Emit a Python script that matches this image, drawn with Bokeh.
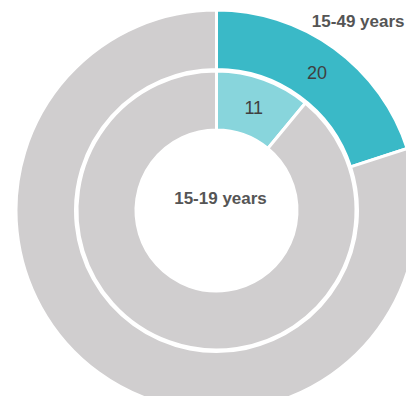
import math
from bokeh.plotting import figure
from bokeh.models import Range1d, ColumnDataSource
from bokeh.core.properties import value
from bokeh.embed import file_html
from bokeh.resources import INLINE

# ---- data ----
outer_labels = ["15-49 years", "Rest"]
outer_values = [20, 80]
inner_labels = ["15-19 years", "Rest"]
inner_values = [11, 89]
outer_colors = ["#3ab9c7", "#d0cecf"]
inner_colors = ["#88d5dc", "#d0cecf"]

CX, CY = 216, -210

def wedges(vals):
    total = sum(vals)
    starts, ends, mids = [], [], []
    a = math.pi / 2
    for v in vals:
        span = v / total * 2 * math.pi
        starts.append(a)
        ends.append(a - span)
        mids.append(a - span / 2)
        a -= span
    return starts, ends, mids

p = figure(width=406, height=396, output_backend="svg", toolbar_location=None,
           x_range=Range1d(0, 406), y_range=Range1d(-396, 0), min_border=0)
p.axis.visible = False
p.grid.visible = False
p.outline_line_color = None
p.background_fill_color = "white"
p.border_fill_color = "white"

os_, oe, om = wedges(outer_values)
src_o = ColumnDataSource(dict(x=[CX] * 2, y=[CY] * 2, s=os_, e=oe, c=outer_colors))
p.annular_wedge(x="x", y="y", inner_radius=141, outer_radius=200.5, start_angle="s",
                end_angle="e", direction="clock", fill_color="c", line_color="white",
                line_width=3, source=src_o)

is_, ie, im = wedges(inner_values)
src_i = ColumnDataSource(dict(x=[CX] * 2, y=[CY] * 2, s=is_, e=ie, c=inner_colors))
p.annular_wedge(x="x", y="y", inner_radius=80.5, outer_radius=139.5, start_angle="s",
                end_angle="e", direction="clock", fill_color="c", line_color="white",
                line_width=3, source=src_i)

# value labels
ro, ri = 171, 110
p.text(x=[CX + ro * math.cos(om[0]), CX + ri * math.cos(im[0])],
       y=[CY + ro * math.sin(om[0]), CY + ri * math.sin(im[0])],
       text=[str(outer_values[0]), str(inner_values[0])],
       text_align="center", text_baseline="middle", text_font=value("Liberation Sans"),
       text_font_size="18px", text_color="#404040")

# category labels
p.text(x=[CX + 4], y=[CY + 12], text=[inner_labels[0]], text_align="center",
       text_baseline="middle", text_font=value("Liberation Sans"), text_font_style="bold",
       text_font_size="17px", text_color="#555555")
p.text(x=[404], y=[-21], text=[outer_labels[0]], text_align="right",
       text_baseline="middle", text_font=value("Liberation Sans"), text_font_style="bold",
       text_font_size="17px", text_color="#555555")

open("out.html", "w").write(file_html(p, INLINE))
